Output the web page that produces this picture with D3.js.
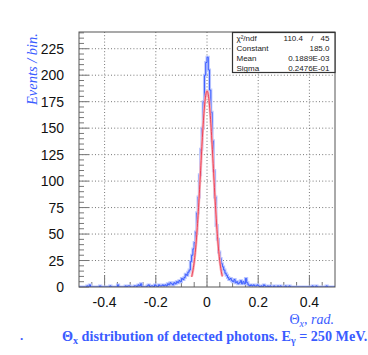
<!DOCTYPE html>
<html><head><meta charset="utf-8">
<script src="https://cdn.jsdelivr.net/npm/d3@7"></script>
<style>html,body{margin:0;padding:0;background:#fff;}svg{display:block;}</style>
</head><body>
<script>
// ---- data ----
const xDomain = [-0.5, 0.5];
const binWidth = 0.005;
const counts = [
  0,0,0,0,0,0,1,0,2,0,0,0,0,0,0,0,1,0,0,0,
  0,0,0,0,1,0,0,0,0,0,2,0,0,0,0,0,1,0,1,1,
  0,0,0,1,1,0,2,1,3,0,0,0,0,1,2,0,1,1,0,2,
  1,0,2,1,1,2,1,2,1,3,2,4,3,2,4,3,5,4,6,5,
  8,7,9,12,11,14,16,24,30,36,42,52,70,85,106,130,150,175,200,212,
  217,205,186,165,138,110,85,58,45,33,27,22,19,16,13,11,9,7,8,6,
  5,7,4,5,3,4,6,3,5,3,8,4,2,1,2,1,2,1,1,2,
  1,0,1,0,2,1,0,1,0,1,0,0,1,0,0,1,0,1,0,0,
  0,1,0,0,1,0,0,0,0,0,0,0,0,0,0,0,0,0,0,0,
  0,0,1,0,0,1,0,0,0,0,0,0,0,1,0,0,0,0,0,0
];
const fitParams = {constant: 185.0, mean: 0.1889e-03, sigma: 0.2476e-01};
const fitRange = [-0.06, 0.06];
const xTicks = [-0.4, -0.2, 0, 0.2, 0.4];
const xTickLabels = ["-0.4", "-0.2", "0", "0.2", "0.4"];
const yTicks = [0, 25, 50, 75, 100, 125, 150, 175, 200, 225];
const statsRows = [
  ["χ²/ndf", "110.4", "45"],
  ["Constant", "185.0"],
  ["Mean", "0.1889E-03"],
  ["Sigma", "0.2476E-01"]
];

// ---- drawing ----
const W = 368, H = 355;
const L = 79, R = 335, T = 32, B = 287;
const svg = d3.select("body").append("svg").attr("width", W).attr("height", H);
const x = d3.scaleLinear().domain(xDomain).range([L, R]);
const y = d3.scaleLinear().domain([0, 240.8]).range([B, T]);
const blue = "#3a5cff";

// grid
const g = svg.append("g");
g.selectAll(".vg").data(xTicks).join("line")
  .attr("x1", d => x(d)).attr("x2", d => x(d)).attr("y1", T).attr("y2", B)
  .attr("stroke", "#777").attr("stroke-width", 1).attr("stroke-dasharray", "1,2.2");
g.selectAll(".hg").data(yTicks.filter(d => d > 0)).join("line")
  .attr("x1", L).attr("x2", R).attr("y1", d => y(d)).attr("y2", d => y(d))
  .attr("stroke", "#777").attr("stroke-width", 1).attr("stroke-dasharray", "1,2.2");

// ticks
const minorX = d3.range(-0.45, 0.5, 0.05).map(v => Math.round(v * 100) / 100);
g.selectAll(".xt").data(minorX).join("line")
  .attr("x1", d => x(d)).attr("x2", d => x(d)).attr("y1", B)
  .attr("y2", d => B - (Math.abs(Math.round(d * 10) % 2) === 0 && Math.abs(d * 10 - Math.round(d * 10)) < 1e-6 ? 12 : 5))
  .attr("stroke", "#777").attr("stroke-width", 1);
const minorY = d3.range(0, 241, 5);
g.selectAll(".yt").data(minorY).join("line")
  .attr("x1", L).attr("x2", d => L + (d % 25 === 0 ? 10 : 5))
  .attr("y1", d => y(d)).attr("y2", d => y(d))
  .attr("stroke", "#777").attr("stroke-width", 1);

// histogram
const pts = [[xDomain[0], 0]];
counts.forEach((c, i) => pts.push([xDomain[0] + i * binWidth, c]));
pts.push([xDomain[1], counts[counts.length - 1]]);
pts.push([xDomain[1], 0]);
svg.append("clipPath").attr("id", "clip").append("rect")
  .attr("x", L).attr("y", T).attr("width", R - L).attr("height", B - T);
const line = d3.line().x(d => x(d[0])).y(d => y(d[1])).curve(d3.curveStepAfter);
const hg = svg.append("g").attr("clip-path", "url(#clip)");
hg.append("path").attr("d", line(pts)).attr("fill", "none")
  .attr("stroke", "#b9c5ff").attr("stroke-width", 3);
hg.append("path").attr("d", line(pts)).attr("fill", "none")
  .attr("stroke", blue).attr("stroke-width", 1);

// fit curve
const fx = d3.range(fitRange[0], fitRange[1] + 1e-9, 0.001);
const gauss = v => fitParams.constant * Math.exp(-0.5 * Math.pow((v - fitParams.mean) / fitParams.sigma, 2));
const fline = d3.line().x(d => x(d)).y(d => y(gauss(d))).curve(d3.curveLinear);
hg.append("path").attr("d", fline(fx)).attr("fill", "none")
  .attr("stroke", "#f7b0b8").attr("stroke-width", 2.6);
hg.append("path").attr("d", fline(fx)).attr("fill", "none")
  .attr("stroke", "#ee4058").attr("stroke-width", 1);

// frame
svg.append("rect").attr("x", L).attr("y", T).attr("width", R - L).attr("height", B - T)
  .attr("fill", "none").attr("stroke", "#555").attr("stroke-width", 1);

// tick labels
svg.selectAll(".yl").data(yTicks).join("text")
  .attr("x", 64).attr("y", d => y(d) + 5).attr("text-anchor", "end")
  .attr("font-family", "Liberation Sans, Arial, sans-serif").attr("font-size", 14).attr("fill", "#111")
  .text(d => d);
svg.selectAll(".xl").data(xTicks).join("text")
  .attr("x", (d, i) => x(d)).attr("y", 307).attr("text-anchor", "middle")
  .attr("font-family", "Liberation Sans, Arial, sans-serif").attr("font-size", 14).attr("fill", "#111")
  .text((d, i) => xTickLabels[i]);

// axis titles
svg.append("text").attr("transform", "translate(37,33) rotate(-90)").attr("text-anchor", "end")
  .attr("font-family", "Liberation Serif, Times New Roman, serif").attr("font-style", "italic")
  .attr("font-size", 14.5).attr("fill", blue).text("Events / bin.");
const xt = svg.append("text").attr("x", 334).attr("y", 324).attr("text-anchor", "end")
  .attr("font-family", "Liberation Serif, Times New Roman, serif").attr("font-size", 14).attr("fill", blue);
xt.append("tspan").text("Θ");
xt.append("tspan").attr("dy", 3).attr("font-size", 10).attr("font-style", "italic").text("x");
xt.append("tspan").attr("dy", -3).attr("font-style", "italic").text(", rad.");

// caption
svg.append("text").attr("x", 20).attr("y", 340).attr("font-family", "Liberation Serif, serif")
  .attr("font-size", 13).attr("font-weight", "bold").attr("fill", blue).text(".");
const cap = svg.append("text").attr("x", 62).attr("y", 341)
  .attr("font-family", "Liberation Serif, Times New Roman, serif").attr("font-weight", "bold")
  .attr("font-size", 14.2).attr("fill", blue);
cap.append("tspan").text("Θ");
cap.append("tspan").attr("dy", 3).attr("font-size", 10).text("x");
cap.append("tspan").attr("dy", -3).text(" distribution of detected photons. E");
cap.append("tspan").attr("dy", 3).attr("font-size", 10).text("γ");
cap.append("tspan").attr("dy", -3).text(" = 250 MeV.");

// stats box
const sb = svg.append("g");
sb.append("rect").attr("x", 232.5).attr("y", T + 0.5).attr("width", R - 232.5).attr("height", 40)
  .attr("fill", "#fff").attr("stroke", "#333").attr("stroke-width", 1.2);
const rowY = [40.5, 50.5, 60.5, 71];
statsRows.forEach((r, i) => {
  sb.append("text").attr("x", 236.5).attr("y", rowY[i]).attr("font-family", "Liberation Sans, Arial, sans-serif")
    .attr("font-size", 8).attr("fill", "#222").text(r[0]);
  if (r.length === 3) {
    sb.append("text").attr("x", 303).attr("y", rowY[i]).attr("text-anchor", "end")
      .attr("font-family", "Liberation Sans, Arial, sans-serif").attr("font-size", 8).attr("fill", "#222").text(r[1]);
    sb.append("text").attr("x", 311).attr("y", rowY[i]).attr("font-family", "Liberation Sans, Arial, sans-serif")
      .attr("font-size", 8).attr("fill", "#222").text("/");
    sb.append("text").attr("x", 329.5).attr("y", rowY[i]).attr("text-anchor", "end")
      .attr("font-family", "Liberation Sans, Arial, sans-serif").attr("font-size", 8).attr("fill", "#222").text(r[1 + 1]);
  } else {
    sb.append("text").attr("x", 329.5).attr("y", rowY[i]).attr("text-anchor", "end")
      .attr("font-family", "Liberation Sans, Arial, sans-serif").attr("font-size", 8).attr("fill", "#222").text(r[1]);
  }
});
</script>
</body></html>
